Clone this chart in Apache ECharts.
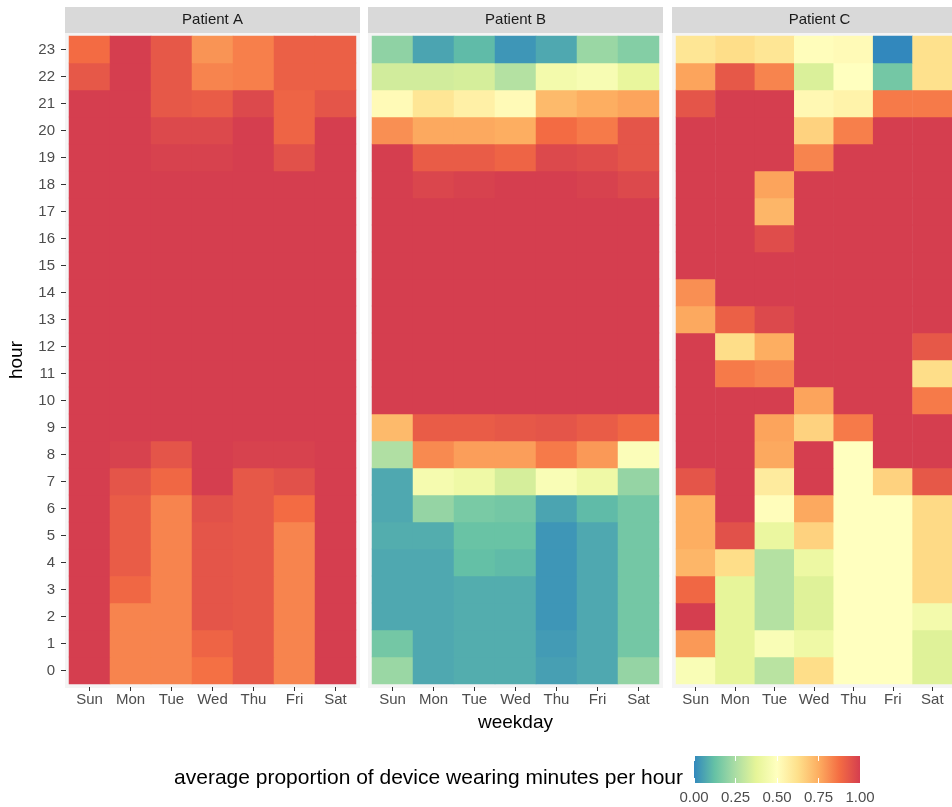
<!DOCTYPE html>
<html>
<head>
<meta charset="utf-8">
<title>Device wearing by hour and weekday</title>
<script src="https://cdn.jsdelivr.net/npm/echarts@6/dist/echarts.min.js"></script>
<style>
  html, body { margin: 0; padding: 0; background: #ffffff; }
  #chart { width: 952px; height: 807px; }
</style>
</head>
<body>
<div id="chart"></div>
<script>
// Categories and tick labels
const weekdays = ['Sun', 'Mon', 'Tue', 'Wed', 'Thu', 'Fri', 'Sat'];
const hours = ['0', '1', '2', '3', '4', '5', '6', '7', '8', '9', '10', '11',
               '12', '13', '14', '15', '16', '17', '18', '19', '20', '21', '22', '23'];
const patients = ['Patient A', 'Patient B', 'Patient C'];
const legendBreaks = [0, 0.25, 0.5, 0.75, 1];

// Average proportion of wearing minutes; one row per hour (0..23), columns Sun..Sat
const patientA = [
  [1.00, 0.83, 0.83, 0.87, 0.93, 0.83, 1.00], // 0
  [1.00, 0.83, 0.83, 0.90, 0.93, 0.83, 1.00], // 1
  [1.00, 0.83, 0.83, 0.94, 0.93, 0.83, 1.00], // 2
  [1.00, 0.89, 0.83, 0.94, 0.93, 0.83, 1.00], // 3
  [1.00, 0.92, 0.83, 0.94, 0.93, 0.83, 1.00], // 4
  [1.00, 0.92, 0.83, 0.94, 0.93, 0.83, 1.00], // 5
  [1.00, 0.92, 0.83, 0.95, 0.93, 0.88, 1.00], // 6
  [1.00, 0.94, 0.89, 1.00, 0.93, 0.95, 1.00], // 7
  [1.00, 0.99, 0.94, 1.00, 0.99, 0.99, 1.00], // 8
  [1.00, 1.00, 1.00, 1.00, 1.00, 1.00, 1.00], // 9
  [1.00, 1.00, 1.00, 1.00, 1.00, 1.00, 1.00], // 10
  [1.00, 1.00, 1.00, 1.00, 1.00, 1.00, 1.00], // 11
  [1.00, 1.00, 1.00, 1.00, 1.00, 1.00, 1.00], // 12
  [1.00, 1.00, 1.00, 1.00, 1.00, 1.00, 1.00], // 13
  [1.00, 1.00, 1.00, 1.00, 1.00, 1.00, 1.00], // 14
  [1.00, 1.00, 1.00, 1.00, 1.00, 1.00, 1.00], // 15
  [1.00, 1.00, 1.00, 1.00, 1.00, 1.00, 1.00], // 16
  [1.00, 1.00, 1.00, 1.00, 1.00, 1.00, 1.00], // 17
  [1.00, 1.00, 1.00, 1.00, 1.00, 1.00, 1.00], // 18
  [1.00, 1.00, 0.99, 0.99, 1.00, 0.95, 1.00], // 19
  [1.00, 1.00, 0.97, 0.97, 1.00, 0.90, 1.00], // 20
  [1.00, 1.00, 0.93, 0.92, 0.97, 0.90, 0.94], // 21
  [0.93, 1.00, 0.93, 0.83, 0.84, 0.91, 0.91], // 22
  [0.88, 1.00, 0.93, 0.80, 0.84, 0.91, 0.91]  // 23
];

const patientB = [
  [0.22, 0.07, 0.08, 0.08, 0.05, 0.07, 0.21], // 0
  [0.15, 0.07, 0.08, 0.08, 0.04, 0.07, 0.15], // 1
  [0.07, 0.07, 0.08, 0.08, 0.03, 0.07, 0.15], // 2
  [0.07, 0.07, 0.08, 0.08, 0.03, 0.07, 0.15], // 3
  [0.07, 0.07, 0.12, 0.11, 0.03, 0.07, 0.15], // 4
  [0.08, 0.08, 0.13, 0.13, 0.03, 0.07, 0.15], // 5
  [0.07, 0.21, 0.16, 0.15, 0.06, 0.11, 0.15], // 6
  [0.07, 0.45, 0.42, 0.34, 0.47, 0.42, 0.21], // 7
  [0.26, 0.82, 0.78, 0.78, 0.85, 0.79, 0.48], // 8
  [0.72, 0.92, 0.92, 0.93, 0.94, 0.92, 0.89], // 9
  [1.00, 1.00, 1.00, 1.00, 1.00, 1.00, 1.00], // 10
  [1.00, 1.00, 1.00, 1.00, 1.00, 1.00, 1.00], // 11
  [1.00, 1.00, 1.00, 1.00, 1.00, 1.00, 1.00], // 12
  [1.00, 1.00, 1.00, 1.00, 1.00, 1.00, 1.00], // 13
  [1.00, 1.00, 1.00, 1.00, 1.00, 1.00, 1.00], // 14
  [1.00, 1.00, 1.00, 1.00, 1.00, 1.00, 1.00], // 15
  [1.00, 1.00, 1.00, 1.00, 1.00, 1.00, 1.00], // 16
  [1.00, 1.00, 1.00, 1.00, 1.00, 1.00, 1.00], // 17
  [1.00, 0.98, 0.99, 1.00, 1.00, 0.99, 0.97], // 18
  [1.00, 0.92, 0.92, 0.90, 0.97, 0.96, 0.94], // 19
  [0.81, 0.76, 0.76, 0.75, 0.88, 0.85, 0.94], // 20
  [0.52, 0.60, 0.56, 0.52, 0.72, 0.75, 0.77], // 21
  [0.33, 0.33, 0.34, 0.27, 0.44, 0.46, 0.39], // 22
  [0.20, 0.06, 0.11, 0.03, 0.07, 0.22, 0.18]  // 23
];

const patientC = [
  [0.47, 0.38, 0.28, 0.63, 0.50, 0.50, 0.36], // 0
  [0.79, 0.38, 0.47, 0.42, 0.50, 0.50, 0.36], // 1
  [1.00, 0.38, 0.27, 0.36, 0.50, 0.50, 0.44], // 2
  [0.89, 0.38, 0.27, 0.36, 0.50, 0.50, 0.64], // 3
  [0.73, 0.63, 0.27, 0.41, 0.50, 0.50, 0.64], // 4
  [0.75, 0.95, 0.40, 0.66, 0.50, 0.50, 0.64], // 5
  [0.75, 1.00, 0.51, 0.76, 0.50, 0.50, 0.64], // 6
  [0.94, 1.00, 0.58, 1.00, 0.50, 0.66, 0.93], // 7
  [1.00, 1.00, 0.76, 1.00, 0.50, 1.00, 1.00], // 8
  [1.00, 1.00, 0.77, 0.66, 0.85, 1.00, 1.00], // 9
  [1.00, 1.00, 1.00, 0.77, 1.00, 1.00, 0.85], // 10
  [1.00, 0.85, 0.83, 1.00, 1.00, 1.00, 0.63], // 11
  [1.00, 0.63, 0.75, 1.00, 1.00, 1.00, 0.93], // 12
  [0.76, 0.91, 0.97, 1.00, 1.00, 1.00, 1.00], // 13
  [0.81, 1.00, 1.00, 1.00, 1.00, 1.00, 1.00], // 14
  [1.00, 1.00, 1.00, 1.00, 1.00, 1.00, 1.00], // 15
  [1.00, 1.00, 0.96, 1.00, 1.00, 1.00, 1.00], // 16
  [1.00, 1.00, 0.73, 1.00, 1.00, 1.00, 1.00], // 17
  [1.00, 1.00, 0.77, 1.00, 1.00, 1.00, 1.00], // 18
  [1.00, 1.00, 1.00, 0.83, 1.00, 1.00, 1.00], // 19
  [1.00, 1.00, 1.00, 0.66, 0.84, 1.00, 1.00], // 20
  [0.94, 1.00, 1.00, 0.53, 0.55, 0.85, 0.85], // 21
  [0.77, 0.93, 0.83, 0.35, 0.50, 0.15, 0.62], // 22
  [0.60, 0.63, 0.60, 0.51, 0.52, 0.00, 0.62]  // 23
];

// Spectral palette, low (blue) to high (red)
const palette = ['#3288BD', '#66C2A5', '#ABDDA4', '#E6F598', '#FFFFBF',
                 '#FEE08B', '#FDAE61', '#F46D43', '#D53E4F'];

// Facet geometry (whole-pixel cells: 41 x 27)
const panelLefts = [69, 372, 676];
const panelTop = 36;
const panelWidth = 287;
const panelHeight = 648;
const pad = 4;
const stripTop = 7;
const stripHeight = 26;
const font = '"Liberation Sans", Arial, sans-serif';

const tables = [patientA, patientB, patientC];

function toCells(table) {
  const cells = [];
  for (let h = 0; h < table.length; h++) {
    for (let d = 0; d < table[h].length; d++) {
      cells.push([d, h, table[h][d]]);
    }
  }
  return cells;
}

const grids = panelLefts.map(l => ({ left: l, top: panelTop, width: panelWidth, height: panelHeight }));
// colour bar guide
const bar = { left: 694, top: 756, width: 166, height: 27 };
grids.push(bar);

const xAxes = panelLefts.map((l, i) => ({
  type: 'category',
  gridIndex: i,
  data: weekdays,
  position: 'bottom',
  offset: 3,
  axisLine: { show: false },
  axisTick: { show: true, alignWithLabel: true, length: 4, lineStyle: { color: '#333333', width: 1 } },
  axisLabel: { interval: 0, color: '#4D4D4D', fontSize: 15, fontFamily: font, margin: 5 },
  splitLine: { show: false },
  name: i === 1 ? 'weekday' : '',
  nameLocation: 'middle',
  nameGap: 26,
  nameTextStyle: { color: '#000000', fontSize: 19, fontFamily: font }
}));
xAxes.push({
  type: 'value', gridIndex: 3, min: 0, max: 1, interval: 0.25, position: 'bottom',
  axisLine: { show: false },
  axisTick: { show: true, inside: true, length: 5, customValues: legendBreaks, lineStyle: { color: '#ffffff', width: 1 } },
  axisLabel: { show: true, customValues: legendBreaks, formatter: v => v.toFixed(2), color: '#4D4D4D', fontSize: 15, fontFamily: font, margin: 7 },
  splitLine: { show: false }
});
xAxes.push({
  type: 'value', gridIndex: 3, min: 0, max: 1, interval: 0.25, position: 'top',
  axisLine: { show: false },
  axisTick: { show: true, inside: true, length: 5, customValues: legendBreaks, lineStyle: { color: '#ffffff', width: 1 } },
  axisLabel: { show: false },
  splitLine: { show: false }
});

const yAxes = panelLefts.map((l, i) => ({
  type: 'category',
  gridIndex: i,
  data: hours,
  offset: 3,
  axisLine: { show: false },
  axisTick: { show: i === 0, alignWithLabel: true, length: 5, lineStyle: { color: '#333333', width: 1 } },
  axisLabel: { show: i === 0, interval: 0, color: '#4D4D4D', fontSize: 15, fontFamily: font, margin: 11 },
  splitLine: { show: false },
  name: i === 0 ? 'hour' : '',
  nameLocation: 'middle',
  nameGap: 40,
  nameTextStyle: { color: '#000000', fontSize: 19, fontFamily: font }
}));
yAxes.push({ type: 'value', gridIndex: 3, min: 0, max: 1, show: false });

const series = tables.map((t, i) => ({
  type: 'heatmap',
  name: patients[i],
  xAxisIndex: i,
  yAxisIndex: i,
  data: toCells(t),
  itemStyle: { borderWidth: 0 },
  emphasis: { disabled: true },
  progressive: 0
}));

// Facet strips, panel backgrounds, legend title and colour bar
const graphics = [];
panelLefts.forEach((l, i) => {
  graphics.push({
    type: 'rect', z: -2, silent: true,
    shape: { x: l - pad, y: stripTop + stripHeight, width: panelWidth + 2 * pad, height: panelTop + panelHeight + pad - stripTop - stripHeight },
    style: { fill: '#F4F4F4' }
  });
  graphics.push({
    type: 'rect', z: -1, silent: true,
    shape: { x: l - pad, y: stripTop, width: panelWidth + 2 * pad, height: stripHeight },
    style: { fill: '#D9D9D9' }
  });
  graphics.push({
    type: 'text', z: 5, silent: true,
    style: {
      text: patients[i], x: l + panelWidth / 2, y: stripTop + stripHeight / 2,
      fill: '#1A1A1A', font: '15px ' + font,
      align: 'center', verticalAlign: 'middle', textAlign: 'center', textVerticalAlign: 'middle'
    }
  });
});
graphics.push({
  type: 'rect', z: -1, silent: true,
  shape: { x: bar.left, y: bar.top, width: bar.width, height: bar.height },
  style: {
    fill: new echarts.graphic.LinearGradient(0, 0, 1, 0,
      palette.map((c, k) => ({ offset: k / (palette.length - 1), color: c })))
  }
});
graphics.push({
  type: 'text', z: 5, silent: true,
  style: {
    text: 'average proportion of device wearing minutes per hour',
    x: 683, y: 778, fill: '#000000', font: '21px ' + font,
    align: 'right', verticalAlign: 'middle', textAlign: 'right', textVerticalAlign: 'middle'
  }
});

const chart = echarts.init(document.getElementById('chart'), null, { renderer: 'canvas' });
chart.setOption({
  animation: false,
  backgroundColor: '#ffffff',
  grid: grids,
  xAxis: xAxes,
  yAxis: yAxes,
  visualMap: {
    type: 'continuous', show: false, min: 0, max: 1,
    seriesIndex: [0, 1, 2], dimension: 2,
    inRange: { color: palette }
  },
  graphic: graphics,
  series: series
});
</script>
</body>
</html>
